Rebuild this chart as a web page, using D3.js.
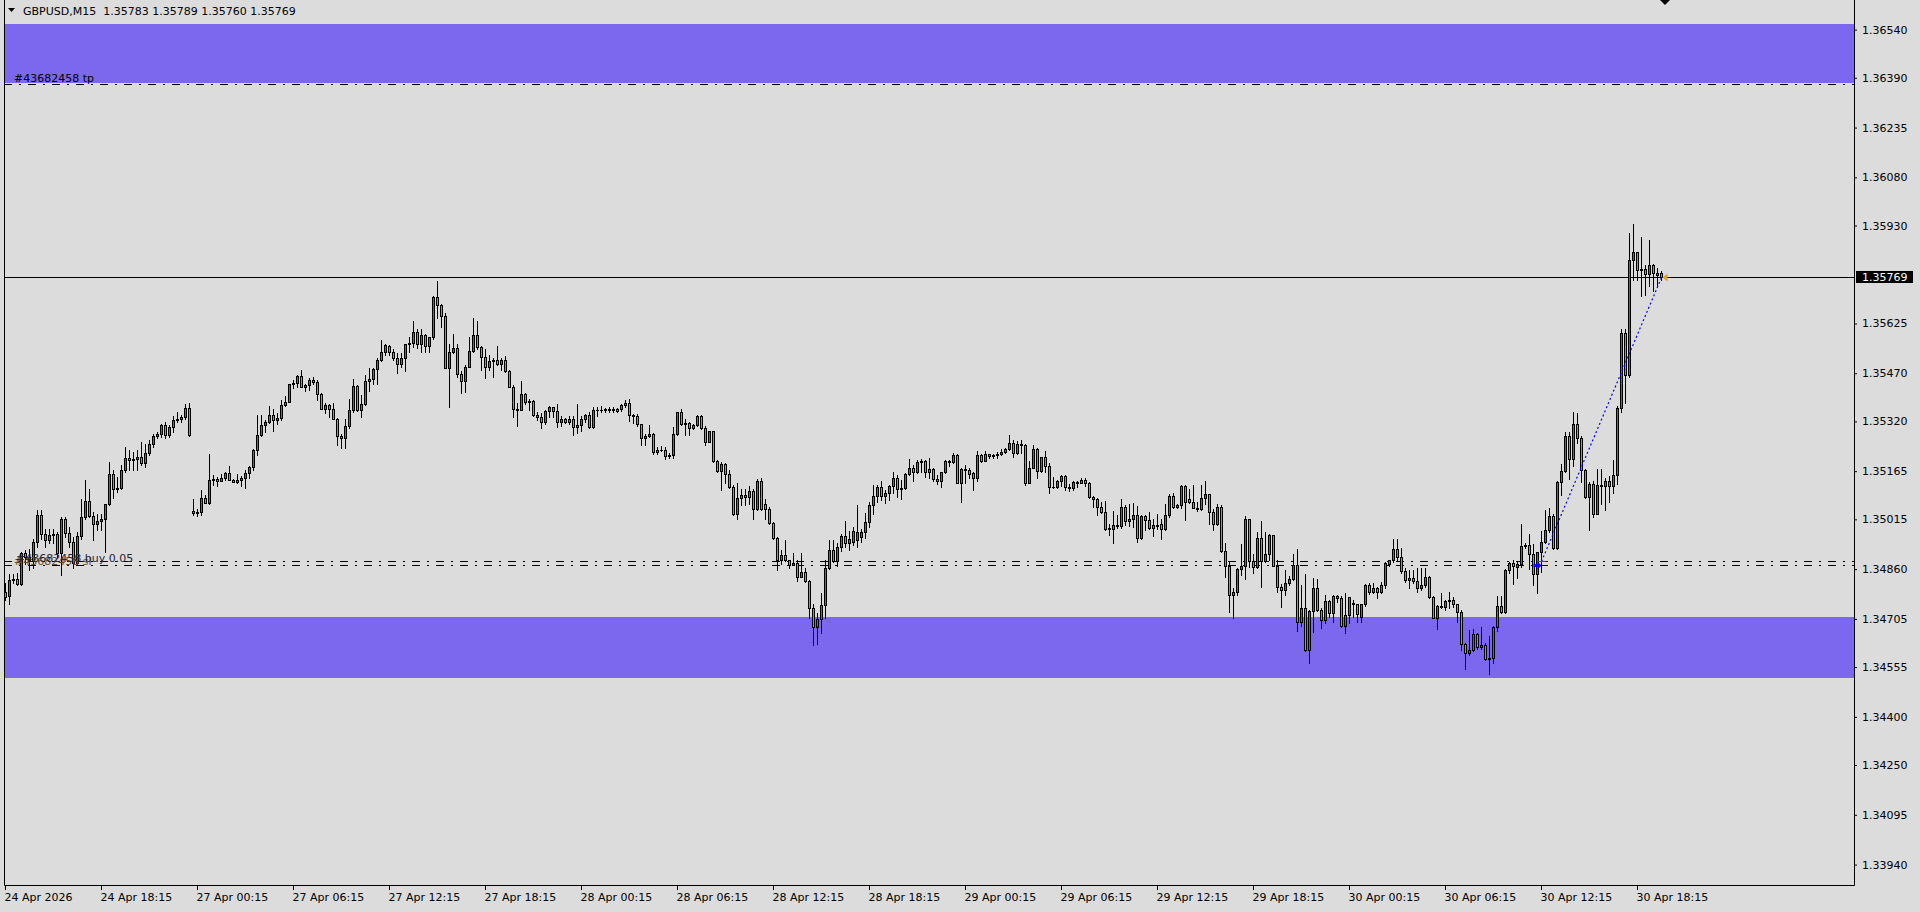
<!DOCTYPE html>
<html>
<head>
<meta charset="utf-8">
<title>GBPUSD,M15</title>
<script src="https://cdn.jsdelivr.net/npm/d3@7/dist/d3.min.js"></script>
<style>
  html, body { margin: 0; padding: 0; background: #dcdcdc; overflow: hidden; }
  #chart { display: block; }
  #chart text { font-family: "DejaVu Sans", Verdana, sans-serif; font-size: 11px; fill: #000; white-space: pre; }
</style>
</head>
<body>
<svg id="chart" width="1920" height="912"></svg>
<script>
(() => {
  const symbol = "GBPUSD,M15";
  const sessionStarts = ["2026-04-24T12:15", "2026-04-27T00:00", "2026-04-28T00:00", "2026-04-29T00:00", "2026-04-30T00:00"];

  // [open, high, low, close] per 15 minute bar
  const apr24 = [
    [1.34789,1.34817,1.34763,1.34774],[1.34776,1.34846,1.34751,1.34825],[1.34825,1.34846,1.34817,1.34829],[1.34829,1.34848,1.34810,1.34815],
    [1.34815,1.34914,1.34812,1.34909],[1.34909,1.34921,1.34877,1.34898],[1.34898,1.34924,1.34857,1.34888],[1.34888,1.34955,1.34862,1.34945],
    [1.34945,1.35043,1.34929,1.35030],[1.35030,1.35043,1.34955,1.34968],[1.34968,1.34986,1.34929,1.34952],[1.34952,1.34986,1.34940,1.34965],
    [1.34965,1.34984,1.34940,1.34968],[1.34968,1.34976,1.34898,1.34909],[1.34909,1.35022,1.34841,1.35015],[1.35015,1.35022,1.34960,1.34971],
    [1.34971,1.34992,1.34929,1.34945],[1.34945,1.34960,1.34862,1.34880],[1.34880,1.34976,1.34872,1.34962],[1.34962,1.35077,1.34955,1.35022],
    [1.35022,1.35139,1.35017,1.35071],[1.35071,1.35111,1.35022,1.35025],[1.35025,1.35038,1.34950,1.34999],[1.34999,1.35033,1.34981,1.35010],
    [1.35010,1.35033,1.34981,1.35015],[1.35015,1.35064,1.34914,1.35064],[1.35064,1.35194,1.35059,1.35156],[1.35156,1.35168,1.35080,1.35108],
    [1.35108,1.35147,1.35101,1.35114],[1.35114,1.35184,1.35108,1.35168],[1.35168,1.35241,1.35163,1.35206],[1.35206,1.35230,1.35168,1.35199],
    [1.35199,1.35225,1.35168,1.35204],[1.35204,1.35232,1.35168,1.35208],[1.35208,1.35256,1.35184,1.35191],[1.35191,1.35251,1.35178,1.35222],
    [1.35222,1.35261,1.35215,1.35251],[1.35251,1.35282,1.35241,1.35275],[1.35275,1.35287,1.35267,1.35282],[1.35282,1.35313,1.35272,1.35308],
    [1.35308,1.35319,1.35267,1.35279],[1.35279,1.35308,1.35272,1.35303],[1.35303,1.35336,1.35287,1.35324],[1.35324,1.35350,1.35319,1.35329],
    [1.35329,1.35339,1.35319,1.35334],[1.35334,1.35374,1.35329,1.35363],[1.35363,1.35376,1.35274,1.35277]
  ];
  const apr27 = [
    [1.35041,1.35078,1.35028,1.35035],[1.35035,1.35046,1.35026,1.35037],[1.35037,1.35106,1.35028,1.35080],[1.35080,1.35090,1.35065,1.35067],
    [1.35067,1.35220,1.35062,1.35139],[1.35139,1.35153,1.35122,1.35142],[1.35142,1.35148,1.35120,1.35135],[1.35135,1.35155,1.35134,1.35145],
    [1.35145,1.35163,1.35139,1.35158],[1.35158,1.35181,1.35137,1.35139],[1.35139,1.35142,1.35130,1.35132],[1.35132,1.35155,1.35129,1.35137],
    [1.35137,1.35149,1.35120,1.35145],[1.35145,1.35168,1.35113,1.35158],[1.35158,1.35181,1.35145,1.35179],[1.35179,1.35233,1.35168,1.35231],
    [1.35231,1.35340,1.35215,1.35277],[1.35277,1.35340,1.35274,1.35308],[1.35308,1.35324,1.35288,1.35319],[1.35319,1.35368,1.35314,1.35340],
    [1.35340,1.35360,1.35291,1.35324],[1.35324,1.35347,1.35312,1.35331],[1.35331,1.35386,1.35324,1.35371],[1.35371,1.35399,1.35367,1.35380],
    [1.35380,1.35438,1.35379,1.35436],[1.35436,1.35449,1.35423,1.35441],[1.35441,1.35464,1.35428,1.35461],[1.35461,1.35480,1.35426,1.35428],
    [1.35428,1.35438,1.35415,1.35433],[1.35433,1.35454,1.35417,1.35449],[1.35449,1.35457,1.35438,1.35444],[1.35444,1.35449,1.35386,1.35404],
    [1.35404,1.35407,1.35358,1.35360],[1.35360,1.35376,1.35347,1.35371],[1.35371,1.35374,1.35333,1.35358],[1.35358,1.35376,1.35327,1.35329],
    [1.35329,1.35331,1.35247,1.35275],[1.35275,1.35280,1.35238,1.35267],[1.35267,1.35329,1.35238,1.35307],[1.35307,1.35389,1.35300,1.35355],
    [1.35355,1.35452,1.35350,1.35430],[1.35430,1.35433,1.35353,1.35357],[1.35357,1.35402,1.35334,1.35374],[1.35374,1.35464,1.35372,1.35446],
    [1.35446,1.35486,1.35414,1.35452],[1.35452,1.35487,1.35438,1.35483],[1.35483,1.35518,1.35436,1.35511],[1.35511,1.35573,1.35508,1.35537],
    [1.35537,1.35561,1.35526,1.35558],[1.35555,1.35558,1.35526,1.35537],[1.35537,1.35544,1.35511,1.35518],[1.35518,1.35532,1.35471,1.35500],
    [1.35500,1.35532,1.35488,1.35516],[1.35516,1.35561,1.35478,1.35560],[1.35560,1.35582,1.35537,1.35565],[1.35565,1.35632,1.35552,1.35597],
    [1.35597,1.35609,1.35549,1.35560],[1.35560,1.35609,1.35535,1.35589],[1.35589,1.35591,1.35535,1.35556],[1.35556,1.35584,1.35537,1.35582],
    [1.35582,1.35710,1.35578,1.35708],[1.35708,1.35757,1.35641,1.35681],[1.35681,1.35685,1.35615,1.35648],[1.35648,1.35656,1.35485,1.35487],
    [1.35487,1.35560,1.35366,1.35535],[1.35535,1.35592,1.35532,1.35550],[1.35550,1.35560,1.35459,1.35469],[1.35469,1.35477,1.35407,1.35446],
    [1.35446,1.35495,1.35412,1.35490],[1.35490,1.35584,1.35488,1.35539],[1.35539,1.35641,1.35537,1.35589],[1.35589,1.35632,1.35547,1.35551],
    [1.35551,1.35554,1.35480,1.35521],[1.35521,1.35544,1.35456,1.35490],[1.35490,1.35526,1.35480,1.35508],[1.35508,1.35516,1.35459,1.35511],
    [1.35511,1.35554,1.35495,1.35500],[1.35500,1.35516,1.35480,1.35511],[1.35511,1.35523,1.35475,1.35478],[1.35478,1.35480,1.35426,1.35428],
    [1.35428,1.35433,1.35334,1.35360],[1.35360,1.35376,1.35306,1.35357],[1.35357,1.35447,1.35355,1.35404],[1.35404,1.35407,1.35373,1.35379],
    [1.35379,1.35391,1.35355,1.35383],[1.35383,1.35386,1.35337,1.35340],[1.35340,1.35350,1.35324,1.35334],[1.35334,1.35345,1.35300,1.35319],
    [1.35319,1.35355,1.35312,1.35352],[1.35352,1.35368,1.35334,1.35365],[1.35365,1.35366,1.35333,1.35352],[1.35352,1.35374,1.35303,1.35317],
    [1.35317,1.35336,1.35306,1.35329],[1.35329,1.35332,1.35315,1.35319],[1.35319,1.35336,1.35313,1.35329],[1.35329,1.35336,1.35279,1.35303]
  ];
  const apr28 = [
    [1.35303,1.35374,1.35285,1.35308],[1.35308,1.35336,1.35290,1.35329],[1.35329,1.35344,1.35319,1.35339],[1.35339,1.35350,1.35301,1.35303],
    [1.35303,1.35365,1.35300,1.35355],[1.35355,1.35365,1.35337,1.35357],[1.35357,1.35367,1.35350,1.35354],[1.35354,1.35363,1.35350,1.35360],
    [1.35355,1.35365,1.35350,1.35360],[1.35360,1.35365,1.35350,1.35356],[1.35360,1.35363,1.35348,1.35353],[1.35358,1.35374,1.35352,1.35371],
    [1.35371,1.35386,1.35365,1.35378],[1.35378,1.35390,1.35322,1.35339],[1.35339,1.35344,1.35316,1.35337],[1.35337,1.35344,1.35306,1.35311],
    [1.35311,1.35313,1.35248,1.35267],[1.35267,1.35282,1.35248,1.35274],[1.35274,1.35308,1.35272,1.35280],[1.35280,1.35285,1.35220,1.35225],
    [1.35225,1.35241,1.35218,1.35232],[1.35232,1.35243,1.35227,1.35230],[1.35230,1.35241,1.35204,1.35212],[1.35212,1.35222,1.35207,1.35216],
    [1.35216,1.35303,1.35207,1.35282],[1.35282,1.35350,1.35278,1.35348],[1.35348,1.35358,1.35310,1.35313],[1.35313,1.35329,1.35279,1.35315],
    [1.35315,1.35319,1.35277,1.35298],[1.35298,1.35313,1.35296,1.35308],[1.35308,1.35339,1.35305,1.35337],[1.35337,1.35339,1.35295,1.35298],
    [1.35298,1.35305,1.35246,1.35256],[1.35256,1.35290,1.35256,1.35289],[1.35289,1.35290,1.35194,1.35197],[1.35197,1.35201,1.35163,1.35166],
    [1.35166,1.35194,1.35106,1.35186],[1.35186,1.35191,1.35129,1.35156],[1.35156,1.35170,1.35114,1.35116],[1.35116,1.35121,1.35028,1.35031],
    [1.35031,1.35129,1.35015,1.35082],[1.35082,1.35108,1.35059,1.35090],[1.35090,1.35111,1.35059,1.35085],[1.35085,1.35118,1.35062,1.35103],
    [1.35103,1.35111,1.35015,1.35047],[1.35047,1.35140,1.35044,1.35134],[1.35134,1.35145,1.35044,1.35047],[1.35064,1.35077,1.35015,1.35047],
    [1.35047,1.35052,1.35002,1.35004],[1.35004,1.35007,1.34955,1.34958],[1.34958,1.34960,1.34857,1.34888],[1.34888,1.34921,1.34875,1.34904],
    [1.34904,1.34950,1.34886,1.34888],[1.34888,1.34890,1.34862,1.34874],[1.34874,1.34909,1.34872,1.34880],[1.34880,1.34888,1.34822,1.34836],
    [1.34836,1.34909,1.34834,1.34852],[1.34852,1.34862,1.34820,1.34823],[1.34823,1.34826,1.34709,1.34739],[1.34739,1.34751,1.34623,1.34680],
    [1.34680,1.34722,1.34628,1.34706],[1.34706,1.34786,1.34661,1.34748],[1.34748,1.34888,1.34708,1.34864],[1.34864,1.34950,1.34861,1.34919],
    [1.34919,1.34950,1.34883,1.34886],[1.34886,1.34940,1.34870,1.34930],[1.34930,1.34970,1.34915,1.34963],[1.34963,1.35010,1.34930,1.34940],
    [1.34940,1.34979,1.34920,1.34955],[1.34945,1.34990,1.34935,1.34979],[1.34950,1.35060,1.34930,1.34977],[1.34960,1.34985,1.34945,1.34977],
    [1.34977,1.35034,1.34956,1.35008],[1.35008,1.35070,1.34992,1.35060],[1.35060,1.35122,1.35031,1.35088],[1.35088,1.35122,1.35070,1.35116],
    [1.35116,1.35133,1.35075,1.35088],[1.35088,1.35107,1.35065,1.35096],[1.35096,1.35122,1.35075,1.35119],[1.35119,1.35161,1.35096,1.35143],
    [1.35143,1.35153,1.35086,1.35109],[1.35109,1.35138,1.35079,1.35114],[1.35114,1.35158,1.35110,1.35155],[1.35155,1.35203,1.35153,1.35174],
    [1.35174,1.35184,1.35135,1.35162],[1.35162,1.35200,1.35158,1.35194],[1.35194,1.35202,1.35163,1.35197],[1.35197,1.35199,1.35148,1.35164],
    [1.35164,1.35205,1.35145,1.35171],[1.35171,1.35174,1.35135,1.35140],[1.35140,1.35152,1.35124,1.35136],[1.35136,1.35164,1.35117,1.35162],
    [1.35162,1.35200,1.35158,1.35197],[1.35197,1.35200,1.35180,1.35193],[1.35193,1.35221,1.35190,1.35215],[1.35215,1.35218,1.35127,1.35129]
  ];
  const apr29 = [
    [1.35129,1.35176,1.35070,1.35173],[1.35173,1.35184,1.35127,1.35170],[1.35170,1.35174,1.35143,1.35155],[1.35160,1.35164,1.35107,1.35143],
    [1.35143,1.35228,1.35136,1.35215],[1.35215,1.35218,1.35195,1.35198],[1.35198,1.35228,1.35197,1.35218],[1.35218,1.35219,1.35205,1.35212],
    [1.35212,1.35218,1.35205,1.35214],[1.35214,1.35226,1.35207,1.35218],[1.35218,1.35233,1.35214,1.35225],[1.35225,1.35238,1.35221,1.35234],
    [1.35234,1.35278,1.35231,1.35252],[1.35252,1.35262,1.35210,1.35221],[1.35221,1.35260,1.35218,1.35250],[1.35250,1.35262,1.35223,1.35247],
    [1.35247,1.35250,1.35122,1.35127],[1.35127,1.35197,1.35127,1.35176],[1.35176,1.35247,1.35174,1.35234],[1.35234,1.35238,1.35145,1.35167],
    [1.35167,1.35210,1.35163,1.35208],[1.35208,1.35228,1.35163,1.35182],[1.35182,1.35189,1.35098,1.35117],[1.35117,1.35148,1.35112,1.35115],
    [1.35115,1.35138,1.35112,1.35135],[1.35135,1.35153,1.35120,1.35150],[1.35150,1.35153,1.35107,1.35117],[1.35117,1.35124,1.35104,1.35112],
    [1.35112,1.35135,1.35107,1.35132],[1.35132,1.35135,1.35117,1.35129],[1.35129,1.35145,1.35127,1.35138],[1.35138,1.35145,1.35120,1.35127],
    [1.35127,1.35130,1.35083,1.35086],[1.35086,1.35089,1.35055,1.35079],[1.35079,1.35081,1.35028,1.35055],[1.35055,1.35069,1.35035,1.35038],
    [1.35038,1.35071,1.34981,1.34984],[1.34984,1.35000,1.34966,1.34988],[1.34984,1.35040,1.34942,1.34997],[1.34997,1.35028,1.34989,1.34994],
    [1.34994,1.35078,1.34988,1.35052],[1.35052,1.35059,1.34997,1.35010],[1.35010,1.35064,1.34994,1.35015],[1.35015,1.35066,1.34992,1.35030],
    [1.35030,1.35056,1.34945,1.34957],[1.34957,1.35030,1.34953,1.35026],[1.35026,1.35028,1.34981,1.35012],[1.35012,1.35038,1.34986,1.34989],
    [1.34989,1.35017,1.34964,1.34996],[1.34993,1.35031,1.34986,1.34997],[1.35000,1.35017,1.34955,1.34984],[1.34984,1.35064,1.34981,1.35028],
    [1.35028,1.35095,1.35023,1.35087],[1.35087,1.35097,1.35051,1.35054],[1.35054,1.35064,1.35051,1.35059],[1.35059,1.35121,1.35049,1.35118],
    [1.35118,1.35121,1.35012,1.35069],[1.35078,1.35111,1.35067,1.35069],[1.35069,1.35121,1.35049,1.35051],[1.35051,1.35069,1.35041,1.35046],
    [1.35046,1.35121,1.35044,1.35083],[1.35083,1.35134,1.35064,1.35093],[1.35093,1.35095,1.35002,1.35038],[1.35038,1.35048,1.34981,1.34999],
    [1.34999,1.35064,1.34997,1.35052],[1.35052,1.35061,1.34914,1.34917],[1.34917,1.34940,1.34834,1.34870],[1.34870,1.34883,1.34727,1.34781],
    [1.34781,1.34800,1.34708,1.34788],[1.34788,1.34862,1.34781,1.34860],[1.34860,1.34938,1.34841,1.34869],[1.34869,1.35026,1.34828,1.35015],
    [1.35015,1.35017,1.34867,1.34886],[1.34886,1.34908,1.34848,1.34867],[1.34867,1.34976,1.34862,1.34958],[1.34958,1.35009,1.34805,1.34886],
    [1.34886,1.34976,1.34883,1.34908],[1.34908,1.34969,1.34890,1.34966],[1.34966,1.34966,1.34869,1.34870],[1.34870,1.34890,1.34789,1.34805],
    [1.34805,1.34815,1.34742,1.34796],[1.34796,1.34857,1.34779,1.34818],[1.34818,1.34838,1.34810,1.34828],[1.34828,1.34908,1.34826,1.34874],
    [1.34874,1.34924,1.34668,1.34696],[1.34696,1.34810,1.34682,1.34740],[1.34740,1.34844,1.34604,1.34607],[1.34607,1.34732,1.34568,1.34729],
    [1.34729,1.34831,1.34665,1.34800],[1.34800,1.34828,1.34730,1.34734],[1.34734,1.34740,1.34677,1.34703],[1.34703,1.34779,1.34693,1.34760],
    [1.34760,1.34763,1.34711,1.34724],[1.34724,1.34779,1.34696,1.34776],[1.34776,1.34779,1.34758,1.34771],[1.34771,1.34776,1.34680,1.34683]
  ];
  const apr30 = [
    [1.34683,1.34785,1.34660,1.34716],[1.34716,1.34774,1.34691,1.34772],[1.34755,1.34764,1.34712,1.34751],[1.34751,1.34753,1.34696,1.34720],
    [1.34712,1.34753,1.34696,1.34751],[1.34751,1.34814,1.34745,1.34811],[1.34811,1.34816,1.34782,1.34790],[1.34790,1.34818,1.34787,1.34800],
    [1.34800,1.34805,1.34769,1.34790],[1.34790,1.34821,1.34787,1.34811],[1.34811,1.34883,1.34800,1.34880],[1.34876,1.34890,1.34871,1.34888],
    [1.34888,1.34953,1.34883,1.34922],[1.34922,1.34953,1.34886,1.34899],[1.34899,1.34925,1.34847,1.34854],[1.34854,1.34862,1.34821,1.34826],
    [1.34826,1.34857,1.34802,1.34831],[1.34831,1.34857,1.34816,1.34823],[1.34823,1.34862,1.34790,1.34800],[1.34800,1.34862,1.34795,1.34811],
    [1.34811,1.34862,1.34805,1.34834],[1.34834,1.34838,1.34769,1.34772],[1.34772,1.34775,1.34707,1.34709],[1.34709,1.34748,1.34675,1.34745],
    [1.34745,1.34787,1.34738,1.34742],[1.34742,1.34764,1.34732,1.34761],[1.34761,1.34790,1.34738,1.34763],[1.34763,1.34774,1.34743,1.34750],
    [1.34750,1.34753,1.34696,1.34727],[1.34727,1.34732,1.34608,1.34626],[1.34626,1.34631,1.34548,1.34598],[1.34598,1.34670,1.34593,1.34608],
    [1.34608,1.34675,1.34605,1.34657],[1.34657,1.34660,1.34611,1.34619],[1.34619,1.34681,1.34610,1.34625],[1.34625,1.34629,1.34577,1.34579],
    [1.34579,1.34652,1.34535,1.34582],[1.34582,1.34683,1.34569,1.34681],[1.34681,1.34776,1.34668,1.34745],[1.34745,1.34776,1.34722,1.34725],
    [1.34725,1.34859,1.34722,1.34857],[1.34857,1.34883,1.34847,1.34880],[1.34880,1.34888,1.34813,1.34871],[1.34866,1.34883,1.34831,1.34875],
    [1.34875,1.35001,1.34868,1.34932],[1.34932,1.34940,1.34925,1.34935],[1.34935,1.34969,1.34859,1.34906],[1.34906,1.34937,1.34810,1.34844],
    [1.34844,1.34914,1.34786,1.34912],[1.34912,1.34978,1.34850,1.34943],[1.34943,1.35043,1.34940,1.34981],[1.34981,1.35049,1.34976,1.35025],
    [1.35025,1.35033,1.34924,1.34926],[1.34926,1.35134,1.34924,1.35132],[1.35132,1.35186,1.35092,1.35165],[1.35165,1.35287,1.35162,1.35274],
    [1.35274,1.35287,1.35142,1.35204],[1.35204,1.35350,1.35181,1.35313],[1.35313,1.35347,1.35254,1.35267],[1.35267,1.35275,1.35132,1.35168],
    [1.35168,1.35171,1.35082,1.35085],[1.35085,1.35132,1.34981,1.35124],[1.35124,1.35134,1.35022,1.35033],[1.35033,1.35171,1.35031,1.35123],
    [1.35123,1.35171,1.35064,1.35118],[1.35118,1.35144,1.35043,1.35135],[1.35135,1.35150,1.35069,1.35119],[1.35119,1.35199,1.35098,1.35154],
    [1.35154,1.35367,1.35126,1.35363],[1.35363,1.35609,1.35350,1.35594],[1.35594,1.35609,1.35376,1.35466],[1.35466,1.35908,1.35459,1.35822],
    [1.35822,1.35934,1.35760,1.35846],[1.35846,1.35846,1.35760,1.35791],[1.35791,1.35895,1.35711,1.35796],[1.35796,1.35806,1.35713,1.35780],
    [1.35780,1.35884,1.35742,1.35806],[1.35806,1.35811,1.35725,1.35783],[1.35783,1.35799,1.35739,1.35776],[1.35783,1.35789,1.35760,1.35769]
  ];

  const priceTicks = [1.36540, 1.36390, 1.36235, 1.36080, 1.35930, 1.35625, 1.35470, 1.35320, 1.35165,
    1.35015, 1.34860, 1.34705, 1.34555, 1.34400, 1.34250, 1.34095, 1.33940];
  const zones = [[1.36557, 1.36375], [1.34711, 1.34521]];
  const ticket = "#43682458";
  const openPrice = 1.34886;
  const stopPrice = 1.34874;
  const takeProfit = 1.36372;
  const entryBar = 384;

  const bull = "#2e8b57", bear = "#db7093", zoneColor = "#7b68ee", bg = "#dcdcdc";
  const plot = { left: 4, right: 1854, top: 0, bottom: 885 };

  // bars with their times
  const parseStart = d3.timeParse("%Y-%m-%dT%H:%M");
  const bars = [];
  [apr24, apr27, apr28, apr29, apr30].forEach((day, d) => {
    const start = parseStart(sessionStarts[d]);
    day.forEach(([o, h, l, c], j) => {
      bars.push({ i: bars.length, t: d3.timeMinute.offset(start, 15 * j), o, h, l, c });
    });
  });
  const last = bars[bars.length - 1];

  const svg = d3.select("#chart");
  svg.append("rect").attr("width", 1920).attr("height", 912).attr("fill", bg);

  const x = d3.scaleBand().domain(bars.map((d) => d.i)).range([3.5, 3.5 + 4 * bars.length]);
  const cx = (i) => x(i) + x.bandwidth() / 2;
  const y = d3.scaleLinear().domain([1.33940, 1.36540]).range([864.6, 29.6]);
  const py = (p) => Math.round(y(p)) + 0.5;

  // supply / demand zones
  svg.append("g").selectAll("rect").data(zones).join("rect")
    .attr("x", plot.left).attr("width", plot.right - plot.left)
    .attr("y", (d) => Math.round(y(d[0])))
    .attr("height", (d) => Math.round(y(d[1])) - Math.round(y(d[0])))
    .attr("fill", zoneColor);

  // order lines
  const dashDot = "8,7,2,7";
  svg.append("g").selectAll("line").data([takeProfit, openPrice, stopPrice]).join("line")
    .attr("x1", plot.left).attr("x2", plot.right)
    .attr("y1", (d) => py(d)).attr("y2", (d) => py(d))
    .attr("stroke", "#000").attr("stroke-dasharray", dashDot);

  // current price line
  svg.append("line")
    .attr("x1", plot.left).attr("x2", plot.right)
    .attr("y1", py(last.c)).attr("y2", py(last.c))
    .attr("stroke", "#000");

  // candles
  const candles = svg.append("g");
  candles.selectAll("line.wick").data(bars).join("line")
    .attr("class", "wick")
    .attr("x1", (d) => cx(d.i)).attr("x2", (d) => cx(d.i))
    .attr("y1", (d) => py(d.h) - 0.5).attr("y2", (d) => py(d.l) + 0.5)
    .attr("stroke", "#000");
  candles.selectAll("rect.body").data(bars.filter((d) => py(d.o) !== py(d.c))).join("rect")
    .attr("class", "body")
    .attr("x", (d) => cx(d.i) - 1)
    .attr("y", (d) => py(Math.max(d.o, d.c)))
    .attr("width", 2)
    .attr("height", (d) => py(Math.min(d.o, d.c)) - py(Math.max(d.o, d.c)))
    .attr("fill", (d) => d.c > d.o ? bull : bear)
    .attr("stroke", "#000");
  candles.selectAll("line.doji").data(bars.filter((d) => py(d.o) === py(d.c))).join("line")
    .attr("class", "doji")
    .attr("x1", (d) => cx(d.i) - 1.5).attr("x2", (d) => cx(d.i) + 1.5)
    .attr("y1", (d) => py(d.c)).attr("y2", (d) => py(d.c))
    .attr("stroke", "#000");

  // trade line from entry to current price
  const entry = bars[entryBar];
  svg.append("line")
    .attr("x1", cx(entry.i)).attr("y1", py(openPrice))
    .attr("x2", cx(last.i)).attr("y2", py(last.c))
    .attr("stroke", "#0000ff").attr("stroke-width", 1.2).attr("stroke-dasharray", "2,2.5");
  svg.append("line")
    .attr("x1", cx(entry.i) - 4).attr("x2", cx(entry.i) + 4)
    .attr("y1", py(openPrice)).attr("y2", py(openPrice))
    .attr("stroke", "#ff0000");
  const ax = cx(entry.i) - 4, ay = py(stopPrice);
  svg.append("path")
    .attr("d", `M${ax - 4},${ay - 1.5}h4v-2.5l4,4l-4,4v-2.5h-4z`)
    .attr("fill", "#0000ff");
  const gx = cx(last.i) + 1, gy = py(last.c);
  svg.append("path")
    .attr("d", `M${gx},${gy}L${gx + 5},${gy - 4}L${gx + 5},${gy + 4}Z`)
    .attr("fill", "#e0a020");

  // text labels on the order lines
  svg.append("text").attr("x", 14).attr("y", py(takeProfit) - 3).text(`${ticket} tp`);
  svg.append("text").attr("x", 14).attr("y", py(stopPrice) - 1).style("fill", "#6b4a2a").text(`${ticket} sl`);
  svg.append("text").attr("x", 16).attr("y", py(openPrice)).style("fill", "#262638").text(`${ticket} buy 0.05`);

  // frame
  svg.append("path")
    .attr("d", `M${plot.left + 0.5},0V${plot.bottom + 0.5}H${plot.right + 0.5}V0`)
    .attr("fill", "none").attr("stroke", "#000");

  // price axis
  const yAxis = svg.append("g")
    .attr("transform", `translate(${plot.right},0)`)
    .call(d3.axisRight(y).tickValues(priceTicks).tickSize(3).tickPadding(5).tickFormat(d3.format(".5f")));
  yAxis.select(".domain").remove();
  yAxis.selectAll("text").attr("font-family", null).attr("font-size", null);

  const tagY = py(last.c);
  svg.append("rect").attr("x", plot.right + 2).attr("y", tagY - 6.5).attr("width", 57).attr("height", 12).attr("fill", "#000");
  svg.append("text").attr("x", plot.right + 8).attr("y", tagY).attr("dy", "0.35em")
    .style("fill", "#fff").text(d3.format(".5f")(last.c));

  // time axis
  const timeTicks = bars.filter((d) => d.i % 24 === 0);
  const fmtFirst = d3.timeFormat("%-d %b %Y"), fmt = d3.timeFormat("%-d %b %H:%M");
  const tAxis = svg.append("g").attr("transform", `translate(0,${plot.bottom})`);
  tAxis.selectAll("line").data(timeTicks).join("line")
    .attr("x1", (d) => cx(d.i)).attr("x2", (d) => cx(d.i))
    .attr("y1", 0).attr("y2", 5).attr("stroke", "#000");
  tAxis.selectAll("text").data(timeTicks).join("text")
    .attr("x", (d) => cx(d.i) - 1).attr("y", 16)
    .text((d, k) => k === 0 ? fmtFirst(d.t) : fmt(d.t));

  // header
  svg.append("path").attr("d", "M8,8h7l-3.5,4z").attr("fill", "#000");
  svg.append("text").attr("x", 23).attr("y", 15)
    .text(`${symbol}  ${[last.o, last.h, last.l, last.c].map(d3.format(".5f")).join(" ")}`);

  // chart shift marker
  svg.append("path").attr("d", "M1660,0h10l-5,5z").attr("fill", "#000");
})();
</script>
</body>
</html>
